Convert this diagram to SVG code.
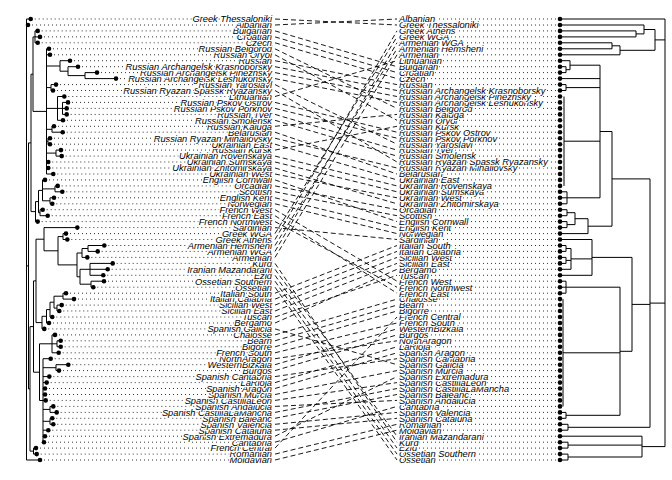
<svg xmlns="http://www.w3.org/2000/svg" width="672" height="480" viewBox="0 0 672 480">
<style>
text{font-family:"Liberation Sans",Arial,sans-serif;font-size:9.3px;font-style:italic;fill:#000;stroke:#fff;stroke-width:2.4px;paint-order:stroke;stroke-linejoin:round}
.ll{text-anchor:end}
.rl{text-anchor:start}
.dl{stroke:#333;stroke-width:1;stroke-dasharray:1 3;fill:none}
.tree{stroke:#000;stroke-width:1;fill:none}
circle{fill:#000}
.conn{stroke:#000;stroke-width:0.9;stroke-dasharray:5 3;fill:none}
</style>
<rect width="672" height="480" fill="#fff"/>
<g id="left-tree">
<path class="tree" d="M35 30.9V42.8M35 30.9H37.7M35 36.9H40M35 42.8H37.7M85 72.6V78.6M85 72.6H97M85 78.6H116M68 66.7V75.6M68 66.7H78M68 75.6H85M60 60.7V71.2M60 60.7H70M60 71.2H68M46.5 66H60M62.5 102.4V114.4M62.5 102.4H68M62.5 108.4H66.7M62.5 114.4H66.7M57.5 96.5V120.3M57.5 96.5H64.3M57.5 108.4H62.5M57.5 120.3H63M46.5 108.4H57.5M51 84.6V90.5M51 84.6H56M51 90.5H53M46.5 87.6H51M46.5 48.8H49M46.5 54.8H50M52 126.3V132.2M52 126.3H54M52 132.2H62.7M46.5 129.3H52M48 138.2V144.2M48 138.2H50M48 144.2H50M46.5 141.2H48M56 150.1V156.1M56 150.1H61M56 156.1H61.7M46.5 153.1H56M46.5 162H48.3M46.5 168H48.3M46.5 174H53.3M46.5 48.8V174M33 36.9V111.4M33 36.9H35M33 111.4H46.5M55 185.9V191.8M55 185.9H57.7M55 191.8H62.3M50 197.8V203.8M50 197.8H54M50 203.8H52.3M42.5 179.9V200.8M42.5 179.9H45M42.5 188.9H55M42.5 200.8H50M40 209.7V215.7M40 209.7H42.7M40 215.7H47.7M38.5 190.4V212.7M38.5 190.4H42.5M38.5 212.7H40M35.5 201.6V221.6M35.5 201.6H38.5M35.5 221.6H37.7M31 74.2V211.6M31 74.2H33M31 211.6H35.5M63 233.6V239.5M63 233.6H66M63 239.5H67.3M88 245.5V251.4M88 245.5H104.3M88 251.4H97.7M82 248.5V257.4M82 248.5H88M82 257.4H87.3M90 263.4V275.3M90 263.4H112.7M90 269.3H107.7M90 275.3H103.3M91 281.2V287.2M91 281.2H104M91 287.2H93.3M80 269.3V284.2M80 269.3H90M80 284.2H91M77 253V276.8M77 253H82M77 276.8H80M58 236.6V264.9M58 236.6H63M58 264.9H77M44 227.6V250.8M44 227.6H77.3M44 250.8H58M63 293.2V299.1M63 293.2H66M63 299.1H74M57 305.1V311M57 305.1H61.7M57 311H59.3M54 296.2V308.1M54 296.2H63M54 308.1H57M50 302.2V317M50 302.2H54M50 317H52.3M46.5 309.6V323M46.5 309.6H50M46.5 323H49M42 316.3V328.9M42 316.3H46.5M42 328.9H44.3M36 239.2V322.6M36 239.2H44M36 322.6H42M57 340.8V346.8M57 340.8H60.7M57 346.8H60.7M52 334.9V352.8M52 334.9H55M52 343.8H57M52 352.8H58.7M56 364.7V370.6M56 364.7H68.3M56 370.6H59M50 406.4V412.4M50 406.4H53.3M50 412.4H56.7M50 418.3V424.3M50 418.3H52.3M50 424.3H53.3M43 358.7V442.2M43 358.7H50.7M43 367.7H56M43 376.6H49.3M43 382.6H46.7M43 388.5H45M43 394.5H45M43 400.4H45.7M43 409.4H50M43 421.3H50M43 430.2H48.3M43 436.2H45M43 442.2H44M39.5 343.8V400.5M39.5 343.8H52M39.5 400.5H43M33.5 280.9V372.2M33.5 280.9H36M33.5 372.2H39.5M33.5 448.1V454.1M33.5 448.1H36M33.5 454.1H36.7M30 326.6V451.1M30 326.6H33.5M30 451.1H33.5M28.5 142.9V388.9M28.5 142.9H31M28.5 388.9H30M26.5 19V460M26.5 19H30.7M26.5 25H28M26.5 265.9H28.5M26.5 460H40"/>
</g>
<g id="right-tree">
<path class="tree" d="M566 66.7V72.6M560 66.7H566M560 72.6H566M570 60.7V69.7M560 60.7H570M566 69.7H570M566 84.6V90.5M560 84.6H566M560 90.5H566M564 96.5V185.9M567 191.8V203.8M560 191.8H567M560 197.8H567M560 203.8H567M600 65.2V197.8M570 65.2H600M560 78.6H600M566 87.6H600M564 141.2H600M567 197.8H600M567 209.7V215.7M560 209.7H567M560 215.7H567M567 221.6V227.6M560 221.6H567M560 227.6H567M575 212.7V224.6M567 212.7H575M567 224.6H575M588 218.7V233.6M575 218.7H588M560 233.6H588M612 131.5V226.2M600 131.5H612M588 226.2H612M566 245.5V251.4M560 245.5H566M560 251.4H566M566 257.4V263.4M560 257.4H566M560 263.4H566M571 248.5V269.3M566 248.5H571M566 260.4H571M560 269.3H571M592 239.5V275.3M560 239.5H592M571 258.9H592M560 275.3H592M566 281.2V293.2M560 281.2H566M560 287.2H566M560 293.2H566M563 299.1V406.4M566 412.4V418.3M560 412.4H566M560 418.3H566M620 287.2V415.3M566 287.2H620M563 352.8H620M566 415.3H620M632 257.4V351.3M592 257.4H632M620 351.3H632M568 424.3V430.2M560 424.3H568M560 430.2H568M568 442.2V448.1M560 442.2H568M560 448.1H568M568 454.1V460M560 454.1H568M560 460H568M642 436.2V457M560 436.2H642M568 445.1H642M568 457H642M650 178.9V427.3M612 178.9H650M632 304.4H650M568 427.3H650M636 30.9V36.9M560 30.9H636M560 36.9H636M644 25V33.9M560 25H644M636 33.9H644M612 42.8V48.8M560 42.8H612M560 48.8H612M620 45.8V54.8M612 45.8H620M560 54.8H620M655 29.5V50.3M644 29.5H655M620 50.3H655M665 19V446.6M560 19H665M655 39.9H665M650 303.1H665M642 446.6H665"/>
</g>
<g id="left-leaves">
<g id="L75"><path class="dl" d="M40 460H272"/><circle cx="40" cy="460" r="2.3"/><text class="ll" x="272" y="463.3">Moldavian</text></g>
<g id="L74"><path class="dl" d="M36.7 454.1H272"/><circle cx="36.7" cy="454.1" r="2.3"/><text class="ll" x="272" y="457.4">Romanian</text></g>
<g id="L73"><path class="dl" d="M36 448.1H272"/><circle cx="36" cy="448.1" r="2.3"/><text class="ll" x="272" y="451.4">French Central</text></g>
<g id="L72"><path class="dl" d="M44 442.2H272"/><circle cx="44" cy="442.2" r="2.3"/><text class="ll" x="272" y="445.5">Cantabria</text></g>
<g id="L71"><path class="dl" d="M45 436.2H272"/><circle cx="45" cy="436.2" r="2.3"/><text class="ll" x="272" y="439.5">Spanish Extremadura</text></g>
<g id="L70"><path class="dl" d="M48.3 430.2H272"/><circle cx="48.3" cy="430.2" r="2.3"/><text class="ll" x="272" y="433.5">Spanish Cataluna</text></g>
<g id="L69"><path class="dl" d="M53.3 424.3H272"/><circle cx="53.3" cy="424.3" r="2.3"/><text class="ll" x="272" y="427.6">Spanish Valencia</text></g>
<g id="L68"><path class="dl" d="M52.3 418.3H272"/><circle cx="52.3" cy="418.3" r="2.3"/><text class="ll" x="272" y="421.6">Spanish Baleanc</text></g>
<g id="L67"><path class="dl" d="M56.7 412.4H272"/><circle cx="56.7" cy="412.4" r="2.3"/><text class="ll" x="272" y="415.7">Spanish CastillaLaMancha</text></g>
<g id="L66"><path class="dl" d="M53.3 406.4H272"/><circle cx="53.3" cy="406.4" r="2.3"/><text class="ll" x="272" y="409.7">Spanish Andalucia</text></g>
<g id="L65"><path class="dl" d="M45.7 400.4H272"/><circle cx="45.7" cy="400.4" r="2.3"/><text class="ll" x="272" y="403.7">Spanish CastillaLeon</text></g>
<g id="L64"><path class="dl" d="M45 394.5H272"/><circle cx="45" cy="394.5" r="2.3"/><text class="ll" x="272" y="397.8">Spanish Murcia</text></g>
<g id="L63"><path class="dl" d="M45 388.5H272"/><circle cx="45" cy="388.5" r="2.3"/><text class="ll" x="272" y="391.8">Spanish Aragon</text></g>
<g id="L62"><path class="dl" d="M46.7 382.6H272"/><circle cx="46.7" cy="382.6" r="2.3"/><text class="ll" x="272" y="385.9">LaRioja</text></g>
<g id="L61"><path class="dl" d="M49.3 376.6H272"/><circle cx="49.3" cy="376.6" r="2.3"/><text class="ll" x="272" y="379.9">Spanish Cantabria</text></g>
<g id="L60"><path class="dl" d="M59 370.6H272"/><circle cx="59" cy="370.6" r="2.3"/><text class="ll" x="272" y="373.9">Burgos</text></g>
<g id="L59"><path class="dl" d="M68.3 364.7H272"/><circle cx="68.3" cy="364.7" r="2.3"/><text class="ll" x="272" y="368">WesternBizkaia</text></g>
<g id="L58"><path class="dl" d="M50.7 358.7H272"/><circle cx="50.7" cy="358.7" r="2.3"/><text class="ll" x="272" y="362">NorthAragon</text></g>
<g id="L57"><path class="dl" d="M58.7 352.8H272"/><circle cx="58.7" cy="352.8" r="2.3"/><text class="ll" x="272" y="356.1">French South</text></g>
<g id="L56"><path class="dl" d="M60.7 346.8H272"/><circle cx="60.7" cy="346.8" r="2.3"/><text class="ll" x="272" y="350.1">Bigorre</text></g>
<g id="L55"><path class="dl" d="M60.7 340.8H272"/><circle cx="60.7" cy="340.8" r="2.3"/><text class="ll" x="272" y="344.1">Bearn</text></g>
<g id="L54"><path class="dl" d="M55 334.9H272"/><circle cx="55" cy="334.9" r="2.3"/><text class="ll" x="272" y="338.2">Chalosse</text></g>
<g id="L53"><path class="dl" d="M44.3 328.9H272"/><circle cx="44.3" cy="328.9" r="2.3"/><text class="ll" x="272" y="332.2">Spanish Galicia</text></g>
<g id="L52"><path class="dl" d="M49 323H272"/><circle cx="49" cy="323" r="2.3"/><text class="ll" x="272" y="326.3">Bergamo</text></g>
<g id="L51"><path class="dl" d="M52.3 317H272"/><circle cx="52.3" cy="317" r="2.3"/><text class="ll" x="272" y="320.3">Tuscan</text></g>
<g id="L50"><path class="dl" d="M59.3 311H272"/><circle cx="59.3" cy="311" r="2.3"/><text class="ll" x="272" y="314.3">Sicilian East</text></g>
<g id="L49"><path class="dl" d="M61.7 305.1H272"/><circle cx="61.7" cy="305.1" r="2.3"/><text class="ll" x="272" y="308.4">Sicilian West</text></g>
<g id="L48"><path class="dl" d="M74 299.1H272"/><circle cx="74" cy="299.1" r="2.3"/><text class="ll" x="272" y="302.4">Italian Calabria</text></g>
<g id="L47"><path class="dl" d="M66 293.2H272"/><circle cx="66" cy="293.2" r="2.3"/><text class="ll" x="272" y="296.5">Italian South</text></g>
<g id="L46"><path class="dl" d="M93.3 287.2H272"/><circle cx="93.3" cy="287.2" r="2.3"/><text class="ll" x="272" y="290.5">Ossetian</text></g>
<g id="L45"><path class="dl" d="M104 281.2H272"/><circle cx="104" cy="281.2" r="2.3"/><text class="ll" x="272" y="284.5">Ossetian Southern</text></g>
<g id="L44"><path class="dl" d="M103.3 275.3H272"/><circle cx="103.3" cy="275.3" r="2.3"/><text class="ll" x="272" y="278.6">Ezid</text></g>
<g id="L43"><path class="dl" d="M107.7 269.3H272"/><circle cx="107.7" cy="269.3" r="2.3"/><text class="ll" x="272" y="272.6">Iranian Mazandarani</text></g>
<g id="L42"><path class="dl" d="M112.7 263.4H272"/><circle cx="112.7" cy="263.4" r="2.3"/><text class="ll" x="272" y="266.7">Kurd</text></g>
<g id="L41"><path class="dl" d="M87.3 257.4H272"/><circle cx="87.3" cy="257.4" r="2.3"/><text class="ll" x="272" y="260.7">Armenian</text></g>
<g id="L40"><path class="dl" d="M97.7 251.4H272"/><circle cx="97.7" cy="251.4" r="2.3"/><text class="ll" x="272" y="254.7">Armenian WGA</text></g>
<g id="L39"><path class="dl" d="M104.3 245.5H272"/><circle cx="104.3" cy="245.5" r="2.3"/><text class="ll" x="272" y="248.8">Armenian Hemsheni</text></g>
<g id="L38"><path class="dl" d="M67.3 239.5H272"/><circle cx="67.3" cy="239.5" r="2.3"/><text class="ll" x="272" y="242.8">Greek Athens</text></g>
<g id="L37"><path class="dl" d="M66 233.6H272"/><circle cx="66" cy="233.6" r="2.3"/><text class="ll" x="272" y="236.9">Greek WGA</text></g>
<g id="L36"><path class="dl" d="M77.3 227.6H272"/><circle cx="77.3" cy="227.6" r="2.3"/><text class="ll" x="272" y="230.9">Sardinian</text></g>
<g id="L35"><path class="dl" d="M37.7 221.6H272"/><circle cx="37.7" cy="221.6" r="2.3"/><text class="ll" x="272" y="224.9">French Northwest</text></g>
<g id="L34"><path class="dl" d="M47.7 215.7H272"/><circle cx="47.7" cy="215.7" r="2.3"/><text class="ll" x="272" y="219">French East</text></g>
<g id="L33"><path class="dl" d="M42.7 209.7H272"/><circle cx="42.7" cy="209.7" r="2.3"/><text class="ll" x="272" y="213">French West</text></g>
<g id="L32"><path class="dl" d="M52.3 203.8H272"/><circle cx="52.3" cy="203.8" r="2.3"/><text class="ll" x="272" y="207.1">Norwegian</text></g>
<g id="L31"><path class="dl" d="M54 197.8H272"/><circle cx="54" cy="197.8" r="2.3"/><text class="ll" x="272" y="201.1">English Kent</text></g>
<g id="L30"><path class="dl" d="M62.3 191.8H272"/><circle cx="62.3" cy="191.8" r="2.3"/><text class="ll" x="272" y="195.1">Scottish</text></g>
<g id="L29"><path class="dl" d="M57.7 185.9H272"/><circle cx="57.7" cy="185.9" r="2.3"/><text class="ll" x="272" y="189.2">Orcadian</text></g>
<g id="L28"><path class="dl" d="M45 179.9H272"/><circle cx="45" cy="179.9" r="2.3"/><text class="ll" x="272" y="183.2">English Cornwall</text></g>
<g id="L27"><path class="dl" d="M53.3 174H272"/><circle cx="53.3" cy="174" r="2.3"/><text class="ll" x="272" y="177.3">Ukrainian West</text></g>
<g id="L26"><path class="dl" d="M48.3 168H272"/><circle cx="48.3" cy="168" r="2.3"/><text class="ll" x="272" y="171.3">Ukrainian Zhitomirskaya</text></g>
<g id="L25"><path class="dl" d="M48.3 162H272"/><circle cx="48.3" cy="162" r="2.3"/><text class="ll" x="272" y="165.3">Ukrainian Sumskaya</text></g>
<g id="L24"><path class="dl" d="M61.7 156.1H272"/><circle cx="61.7" cy="156.1" r="2.3"/><text class="ll" x="272" y="159.4">Ukrainian Rovenskaya</text></g>
<g id="L23"><path class="dl" d="M61 150.1H272"/><circle cx="61" cy="150.1" r="2.3"/><text class="ll" x="272" y="153.4">Russian Kursk</text></g>
<g id="L22"><path class="dl" d="M50 144.2H272"/><circle cx="50" cy="144.2" r="2.3"/><text class="ll" x="272" y="147.5">Ukrainian East</text></g>
<g id="L21"><path class="dl" d="M50 138.2H272"/><circle cx="50" cy="138.2" r="2.3"/><text class="ll" x="272" y="141.5">Russian Ryazan Mihailovsky</text></g>
<g id="L20"><path class="dl" d="M62.7 132.2H272"/><circle cx="62.7" cy="132.2" r="2.3"/><text class="ll" x="272" y="135.5">Belarusian</text></g>
<g id="L19"><path class="dl" d="M54 126.3H272"/><circle cx="54" cy="126.3" r="2.3"/><text class="ll" x="272" y="129.6">Russian Kaluga</text></g>
<g id="L18"><path class="dl" d="M63 120.3H272"/><circle cx="63" cy="120.3" r="2.3"/><text class="ll" x="272" y="123.6">Russian Smolensk</text></g>
<g id="L17"><path class="dl" d="M66.7 114.4H272"/><circle cx="66.7" cy="114.4" r="2.3"/><text class="ll" x="272" y="117.7">Russian Tver</text></g>
<g id="L16"><path class="dl" d="M66.7 108.4H272"/><circle cx="66.7" cy="108.4" r="2.3"/><text class="ll" x="272" y="111.7">Russian Pskov Porkhov</text></g>
<g id="L15"><path class="dl" d="M68 102.4H272"/><circle cx="68" cy="102.4" r="2.3"/><text class="ll" x="272" y="105.7">Russian Pskov Ostrov</text></g>
<g id="L14"><path class="dl" d="M64.3 96.5H272"/><circle cx="64.3" cy="96.5" r="2.3"/><text class="ll" x="272" y="99.8">Lithuanian</text></g>
<g id="L13"><path class="dl" d="M53 90.5H272"/><circle cx="53" cy="90.5" r="2.3"/><text class="ll" x="272" y="93.8">Russian Ryazan Spassk Ryazansky</text></g>
<g id="L12"><path class="dl" d="M56 84.6H272"/><circle cx="56" cy="84.6" r="2.3"/><text class="ll" x="272" y="87.9">Russian Yaroslavl</text></g>
<g id="L11"><path class="dl" d="M116 78.6H272"/><circle cx="116" cy="78.6" r="2.3"/><text class="ll" x="272" y="81.9">Russian Archangelsk Leshukonsky</text></g>
<g id="L10"><path class="dl" d="M97 72.6H272"/><circle cx="97" cy="72.6" r="2.3"/><text class="ll" x="272" y="75.9">Russian Archangelsk Pinezhsky</text></g>
<g id="L09"><path class="dl" d="M78 66.7H272"/><circle cx="78" cy="66.7" r="2.3"/><text class="ll" x="272" y="70">Russian Archangelsk Krasnoborsky</text></g>
<g id="L08"><path class="dl" d="M70 60.7H272"/><circle cx="70" cy="60.7" r="2.3"/><text class="ll" x="272" y="64">Russian</text></g>
<g id="L07"><path class="dl" d="M50 54.8H272"/><circle cx="50" cy="54.8" r="2.3"/><text class="ll" x="272" y="58.1">Russian Oryol</text></g>
<g id="L06"><path class="dl" d="M49 48.8H272"/><circle cx="49" cy="48.8" r="2.3"/><text class="ll" x="272" y="52.1">Russian Belgorod</text></g>
<g id="L05"><path class="dl" d="M37.7 42.8H272"/><circle cx="37.7" cy="42.8" r="2.3"/><text class="ll" x="272" y="46.1">Czech</text></g>
<g id="L04"><path class="dl" d="M40 36.9H272"/><circle cx="40" cy="36.9" r="2.3"/><text class="ll" x="272" y="40.2">Croatian</text></g>
<g id="L03"><path class="dl" d="M37.7 30.9H272"/><circle cx="37.7" cy="30.9" r="2.3"/><text class="ll" x="272" y="34.2">Bulgarian</text></g>
<g id="L02"><path class="dl" d="M28 25H272"/><circle cx="28" cy="25" r="2.3"/><text class="ll" x="272" y="28.3">Albanian</text></g>
<g id="L01"><path class="dl" d="M30.7 19H272"/><circle cx="30.7" cy="19" r="2.3"/><text class="ll" x="272" y="22.3">Greek Thessaloniki</text></g>
</g>
<g id="right-leaves">
<g id="R75"><path class="dl" d="M399 460H560"/><circle cx="560" cy="460" r="2.3"/><text class="rl" x="399" y="463.3">Ossetian</text></g>
<g id="R74"><path class="dl" d="M399 454.1H560"/><circle cx="560" cy="454.1" r="2.3"/><text class="rl" x="399" y="457.4">Ossetian Southern</text></g>
<g id="R73"><path class="dl" d="M399 448.1H560"/><circle cx="560" cy="448.1" r="2.3"/><text class="rl" x="399" y="451.4">Ezid</text></g>
<g id="R72"><path class="dl" d="M399 442.2H560"/><circle cx="560" cy="442.2" r="2.3"/><text class="rl" x="399" y="445.5">Kurd</text></g>
<g id="R71"><path class="dl" d="M399 436.2H560"/><circle cx="560" cy="436.2" r="2.3"/><text class="rl" x="399" y="439.5">Iranian Mazandarani</text></g>
<g id="R70"><path class="dl" d="M399 430.2H560"/><circle cx="560" cy="430.2" r="2.3"/><text class="rl" x="399" y="433.5">Moldavian</text></g>
<g id="R69"><path class="dl" d="M399 424.3H560"/><circle cx="560" cy="424.3" r="2.3"/><text class="rl" x="399" y="427.6">Romanian</text></g>
<g id="R68"><path class="dl" d="M399 418.3H560"/><circle cx="560" cy="418.3" r="2.3"/><text class="rl" x="399" y="421.6">Spanish Cataluna</text></g>
<g id="R67"><path class="dl" d="M399 412.4H560"/><circle cx="560" cy="412.4" r="2.3"/><text class="rl" x="399" y="415.7">Spanish Valencia</text></g>
<g id="R66"><path class="dl" d="M399 406.4H560"/><circle cx="560" cy="406.4" r="2.3"/><text class="rl" x="399" y="409.7">Cantabria</text></g>
<g id="R65"><path class="dl" d="M399 400.4H560"/><circle cx="560" cy="400.4" r="2.3"/><text class="rl" x="399" y="403.7">Spanish Andalucia</text></g>
<g id="R64"><path class="dl" d="M399 394.5H560"/><circle cx="560" cy="394.5" r="2.3"/><text class="rl" x="399" y="397.8">Spanish Baleanc</text></g>
<g id="R63"><path class="dl" d="M399 388.5H560"/><circle cx="560" cy="388.5" r="2.3"/><text class="rl" x="399" y="391.8">Spanish CastillaLaMancha</text></g>
<g id="R62"><path class="dl" d="M399 382.6H560"/><circle cx="560" cy="382.6" r="2.3"/><text class="rl" x="399" y="385.9">Spanish CastillaLeon</text></g>
<g id="R61"><path class="dl" d="M399 376.6H560"/><circle cx="560" cy="376.6" r="2.3"/><text class="rl" x="399" y="379.9">Spanish Extremadura</text></g>
<g id="R60"><path class="dl" d="M399 370.6H560"/><circle cx="560" cy="370.6" r="2.3"/><text class="rl" x="399" y="373.9">Spanish Murcia</text></g>
<g id="R59"><path class="dl" d="M399 364.7H560"/><circle cx="560" cy="364.7" r="2.3"/><text class="rl" x="399" y="368">Spanish Galicia</text></g>
<g id="R58"><path class="dl" d="M399 358.7H560"/><circle cx="560" cy="358.7" r="2.3"/><text class="rl" x="399" y="362">Spanish Cantabria</text></g>
<g id="R57"><path class="dl" d="M399 352.8H560"/><circle cx="560" cy="352.8" r="2.3"/><text class="rl" x="399" y="356.1">Spanish Aragon</text></g>
<g id="R56"><path class="dl" d="M399 346.8H560"/><circle cx="560" cy="346.8" r="2.3"/><text class="rl" x="399" y="350.1">LaRioja</text></g>
<g id="R55"><path class="dl" d="M399 340.8H560"/><circle cx="560" cy="340.8" r="2.3"/><text class="rl" x="399" y="344.1">NorthAragon</text></g>
<g id="R54"><path class="dl" d="M399 334.9H560"/><circle cx="560" cy="334.9" r="2.3"/><text class="rl" x="399" y="338.2">Burgos</text></g>
<g id="R53"><path class="dl" d="M399 328.9H560"/><circle cx="560" cy="328.9" r="2.3"/><text class="rl" x="399" y="332.2">WesternBizkaia</text></g>
<g id="R52"><path class="dl" d="M399 323H560"/><circle cx="560" cy="323" r="2.3"/><text class="rl" x="399" y="326.3">French South</text></g>
<g id="R51"><path class="dl" d="M399 317H560"/><circle cx="560" cy="317" r="2.3"/><text class="rl" x="399" y="320.3">French Central</text></g>
<g id="R50"><path class="dl" d="M399 311H560"/><circle cx="560" cy="311" r="2.3"/><text class="rl" x="399" y="314.3">Bigorre</text></g>
<g id="R49"><path class="dl" d="M399 305.1H560"/><circle cx="560" cy="305.1" r="2.3"/><text class="rl" x="399" y="308.4">Bearn</text></g>
<g id="R48"><path class="dl" d="M399 299.1H560"/><circle cx="560" cy="299.1" r="2.3"/><text class="rl" x="399" y="302.4">Chalosse</text></g>
<g id="R47"><path class="dl" d="M399 293.2H560"/><circle cx="560" cy="293.2" r="2.3"/><text class="rl" x="399" y="296.5">French East</text></g>
<g id="R46"><path class="dl" d="M399 287.2H560"/><circle cx="560" cy="287.2" r="2.3"/><text class="rl" x="399" y="290.5">French Northwest</text></g>
<g id="R45"><path class="dl" d="M399 281.2H560"/><circle cx="560" cy="281.2" r="2.3"/><text class="rl" x="399" y="284.5">French West</text></g>
<g id="R44"><path class="dl" d="M399 275.3H560"/><circle cx="560" cy="275.3" r="2.3"/><text class="rl" x="399" y="278.6">Tuscan</text></g>
<g id="R43"><path class="dl" d="M399 269.3H560"/><circle cx="560" cy="269.3" r="2.3"/><text class="rl" x="399" y="272.6">Bergamo</text></g>
<g id="R42"><path class="dl" d="M399 263.4H560"/><circle cx="560" cy="263.4" r="2.3"/><text class="rl" x="399" y="266.7">Sicilian East</text></g>
<g id="R41"><path class="dl" d="M399 257.4H560"/><circle cx="560" cy="257.4" r="2.3"/><text class="rl" x="399" y="260.7">Sicilian West</text></g>
<g id="R40"><path class="dl" d="M399 251.4H560"/><circle cx="560" cy="251.4" r="2.3"/><text class="rl" x="399" y="254.7">Italian Calabria</text></g>
<g id="R39"><path class="dl" d="M399 245.5H560"/><circle cx="560" cy="245.5" r="2.3"/><text class="rl" x="399" y="248.8">Italian South</text></g>
<g id="R38"><path class="dl" d="M399 239.5H560"/><circle cx="560" cy="239.5" r="2.3"/><text class="rl" x="399" y="242.8">Sardinian</text></g>
<g id="R37"><path class="dl" d="M399 233.6H560"/><circle cx="560" cy="233.6" r="2.3"/><text class="rl" x="399" y="236.9">Norwegian</text></g>
<g id="R36"><path class="dl" d="M399 227.6H560"/><circle cx="560" cy="227.6" r="2.3"/><text class="rl" x="399" y="230.9">English Kent</text></g>
<g id="R35"><path class="dl" d="M399 221.6H560"/><circle cx="560" cy="221.6" r="2.3"/><text class="rl" x="399" y="224.9">English Cornwall</text></g>
<g id="R34"><path class="dl" d="M399 215.7H560"/><circle cx="560" cy="215.7" r="2.3"/><text class="rl" x="399" y="219">Scottish</text></g>
<g id="R33"><path class="dl" d="M399 209.7H560"/><circle cx="560" cy="209.7" r="2.3"/><text class="rl" x="399" y="213">Orcadian</text></g>
<g id="R32"><path class="dl" d="M399 203.8H560"/><circle cx="560" cy="203.8" r="2.3"/><text class="rl" x="399" y="207.1">Ukrainian Zhitomirskaya</text></g>
<g id="R31"><path class="dl" d="M399 197.8H560"/><circle cx="560" cy="197.8" r="2.3"/><text class="rl" x="399" y="201.1">Ukrainian West</text></g>
<g id="R30"><path class="dl" d="M399 191.8H560"/><circle cx="560" cy="191.8" r="2.3"/><text class="rl" x="399" y="195.1">Ukrainian Sumskaya</text></g>
<g id="R29"><path class="dl" d="M399 185.9H560"/><circle cx="560" cy="185.9" r="2.3"/><text class="rl" x="399" y="189.2">Ukrainian Rovenskaya</text></g>
<g id="R28"><path class="dl" d="M399 179.9H560"/><circle cx="560" cy="179.9" r="2.3"/><text class="rl" x="399" y="183.2">Ukrainian East</text></g>
<g id="R27"><path class="dl" d="M399 174H560"/><circle cx="560" cy="174" r="2.3"/><text class="rl" x="399" y="177.3">Belarusian</text></g>
<g id="R26"><path class="dl" d="M399 168H560"/><circle cx="560" cy="168" r="2.3"/><text class="rl" x="399" y="171.3">Russian Ryazan Mihailovsky</text></g>
<g id="R25"><path class="dl" d="M399 162H560"/><circle cx="560" cy="162" r="2.3"/><text class="rl" x="399" y="165.3">Russian Ryazan Spassk Ryazansky</text></g>
<g id="R24"><path class="dl" d="M399 156.1H560"/><circle cx="560" cy="156.1" r="2.3"/><text class="rl" x="399" y="159.4">Russian Smolensk</text></g>
<g id="R23"><path class="dl" d="M399 150.1H560"/><circle cx="560" cy="150.1" r="2.3"/><text class="rl" x="399" y="153.4">Russian Tver</text></g>
<g id="R22"><path class="dl" d="M399 144.2H560"/><circle cx="560" cy="144.2" r="2.3"/><text class="rl" x="399" y="147.5">Russian Yaroslavl</text></g>
<g id="R21"><path class="dl" d="M399 138.2H560"/><circle cx="560" cy="138.2" r="2.3"/><text class="rl" x="399" y="141.5">Russian Pskov Porkhov</text></g>
<g id="R20"><path class="dl" d="M399 132.2H560"/><circle cx="560" cy="132.2" r="2.3"/><text class="rl" x="399" y="135.5">Russian Pskov Ostrov</text></g>
<g id="R19"><path class="dl" d="M399 126.3H560"/><circle cx="560" cy="126.3" r="2.3"/><text class="rl" x="399" y="129.6">Russian Kursk</text></g>
<g id="R18"><path class="dl" d="M399 120.3H560"/><circle cx="560" cy="120.3" r="2.3"/><text class="rl" x="399" y="123.6">Russian Oryol</text></g>
<g id="R17"><path class="dl" d="M399 114.4H560"/><circle cx="560" cy="114.4" r="2.3"/><text class="rl" x="399" y="117.7">Russian Kaluga</text></g>
<g id="R16"><path class="dl" d="M399 108.4H560"/><circle cx="560" cy="108.4" r="2.3"/><text class="rl" x="399" y="111.7">Russian Belgorod</text></g>
<g id="R15"><path class="dl" d="M399 102.4H560"/><circle cx="560" cy="102.4" r="2.3"/><text class="rl" x="399" y="105.7">Russian Archangelsk Leshukonsky</text></g>
<g id="R14"><path class="dl" d="M399 96.5H560"/><circle cx="560" cy="96.5" r="2.3"/><text class="rl" x="399" y="99.8">Russian Archangelsk Pinezhsky</text></g>
<g id="R13"><path class="dl" d="M399 90.5H560"/><circle cx="560" cy="90.5" r="2.3"/><text class="rl" x="399" y="93.8">Russian Archangelsk Krasnoborsky</text></g>
<g id="R12"><path class="dl" d="M399 84.6H560"/><circle cx="560" cy="84.6" r="2.3"/><text class="rl" x="399" y="87.9">Russian</text></g>
<g id="R11"><path class="dl" d="M399 78.6H560"/><circle cx="560" cy="78.6" r="2.3"/><text class="rl" x="399" y="81.9">Czech</text></g>
<g id="R10"><path class="dl" d="M399 72.6H560"/><circle cx="560" cy="72.6" r="2.3"/><text class="rl" x="399" y="75.9">Croatian</text></g>
<g id="R09"><path class="dl" d="M399 66.7H560"/><circle cx="560" cy="66.7" r="2.3"/><text class="rl" x="399" y="70">Bulgarian</text></g>
<g id="R08"><path class="dl" d="M399 60.7H560"/><circle cx="560" cy="60.7" r="2.3"/><text class="rl" x="399" y="64">Lithuanian</text></g>
<g id="R07"><path class="dl" d="M399 54.8H560"/><circle cx="560" cy="54.8" r="2.3"/><text class="rl" x="399" y="58.1">Armenian</text></g>
<g id="R06"><path class="dl" d="M399 48.8H560"/><circle cx="560" cy="48.8" r="2.3"/><text class="rl" x="399" y="52.1">Armenian Hemsheni</text></g>
<g id="R05"><path class="dl" d="M399 42.8H560"/><circle cx="560" cy="42.8" r="2.3"/><text class="rl" x="399" y="46.1">Armenian WGA</text></g>
<g id="R04"><path class="dl" d="M399 36.9H560"/><circle cx="560" cy="36.9" r="2.3"/><text class="rl" x="399" y="40.2">Greek WGA</text></g>
<g id="R03"><path class="dl" d="M399 30.9H560"/><circle cx="560" cy="30.9" r="2.3"/><text class="rl" x="399" y="34.2">Greek Athens</text></g>
<g id="R02"><path class="dl" d="M399 25H560"/><circle cx="560" cy="25" r="2.3"/><text class="rl" x="399" y="28.3">Greek Thessaloniki</text></g>
<g id="R01"><path class="dl" d="M399 19H560"/><circle cx="560" cy="19" r="2.3"/><text class="rl" x="399" y="22.3">Albanian</text></g>
</g>
<g id="connectors">
<path class="conn" d="M275 19L397 25M275 25L397 19M275 30.9L397 66.7M275 36.9L397 72.6M275 42.8L397 78.6M275 48.8L397 108.4M275 54.8L397 120.3M275 60.7L397 84.6M275 66.7L397 90.5M275 72.6L397 96.5M275 78.6L397 102.4M275 84.6L397 144.2M275 90.5L397 162M275 96.5L397 60.7M275 102.4L397 132.2M275 108.4L397 138.2M275 114.4L397 150.1M275 120.3L397 156.1M275 126.3L397 114.4M275 132.2L397 174M275 138.2L397 168M275 144.2L397 179.9M275 150.1L397 126.3M275 156.1L397 185.9M275 162L397 191.8M275 168L397 203.8M275 174L397 197.8M275 179.9L397 221.6M275 185.9L397 209.7M275 191.8L397 215.7M275 197.8L397 227.6M275 203.8L397 233.6M275 209.7L397 281.2M275 215.7L397 293.2M275 221.6L397 287.2M275 227.6L397 239.5M275 233.6L397 36.9M275 239.5L397 30.9M275 245.5L397 48.8M275 251.4L397 42.8M275 257.4L397 54.8M275 263.4L397 442.2M275 269.3L397 436.2M275 275.3L397 448.1M275 281.2L397 454.1M275 287.2L397 460M275 293.2L397 245.5M275 299.1L397 251.4M275 305.1L397 257.4M275 311L397 263.4M275 317L397 275.3M275 323L397 269.3M275 328.9L397 364.7M275 334.9L397 299.1M275 340.8L397 305.1M275 346.8L397 311M275 352.8L397 323M275 358.7L397 340.8M275 364.7L397 328.9M275 370.6L397 334.9M275 376.6L397 358.7M275 382.6L397 346.8M275 388.5L397 352.8M275 394.5L397 370.6M275 400.4L397 382.6M275 406.4L397 400.4M275 412.4L397 388.5M275 418.3L397 394.5M275 424.3L397 412.4M275 430.2L397 418.3M275 436.2L397 376.6M275 442.2L397 406.4M275 448.1L397 317M275 454.1L397 424.3M275 460L397 430.2"/>
</g>
</svg>
